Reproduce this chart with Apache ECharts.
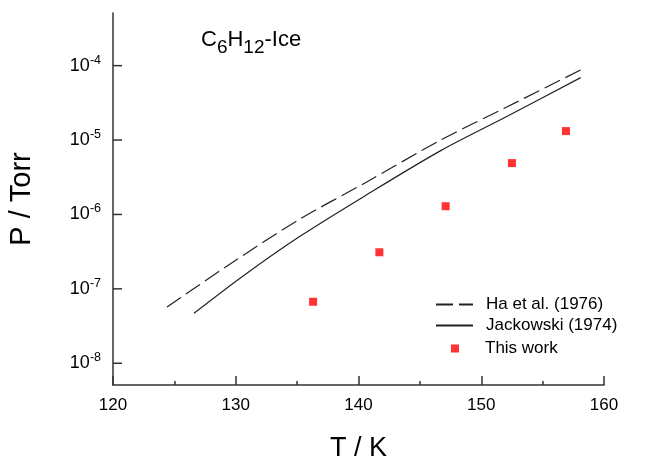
<!DOCTYPE html>
<html>
<head>
<meta charset="utf-8">
<script src="https://cdn.jsdelivr.net/npm/echarts@6/dist/echarts.min.js"></script>
<style>
html,body{margin:0;padding:0;background:#fff;}
#chart{width:666px;height:459px;}
</style>
</head>
<body>
<div id="chart"></div>
<script>
// Ha et al. (1976) – dashed curve
const haT = [124.4, 129.6, 135.2, 140.6, 146.7, 152.0, 158.1];
const haP = [5.71e-8, 2.19e-7, 8.61e-7, 2.69e-6, 1.00e-5, 2.74e-5, 8.75e-5];
// Jackowski (1974) – solid curve
const jaT = [126.6, 130.6, 135.2, 140.6, 146.7, 152.0, 158.1];
const jaP = [4.70e-8, 1.49e-7, 5.04e-7, 1.81e-6, 7.21e-6, 2.04e-5, 6.90e-5];
// This work – red squares
const twT = [136.3, 141.7, 147.1, 152.5, 156.9];
const twP = [6.7e-8, 3.1e-7, 1.29e-6, 4.9e-6, 1.32e-5];
// y tick values (log axis, decades)
const yTicks = [1e-8, 1e-7, 1e-6, 1e-5, 1e-4];
const xMin = 120;
const seriesNames = ['Ha et al. (1976)', 'Jackowski (1974)', 'This work'];

const zip = (a, b) => a.map((v, i) => [v, b[i]]);
const FONT = 'Liberation Sans, Arial, sans-serif';
const chart = echarts.init(document.getElementById('chart'));
chart.setOption({
  animation: false,
  backgroundColor: '#fff',
  textStyle: { fontFamily: FONT },
  title: {
    text: 'C{sub|6}H{sub|12}-Ice',
    left: 201, top: 22, padding: 0,
    textStyle: {
      fontFamily: FONT, fontSize: 22, fontWeight: 'normal', color: '#000',
      rich: { sub: { fontFamily: FONT, fontSize: 19, color: '#000', padding: [16, 0, 0, 0] } }
    }
  },
  grid: { left: 113, right: 62, top: 13, bottom: 74, containLabel: false, outerBoundsMode: 'none' },
  legend: [
    {
      data: [seriesNames[0]], left: 435, top: 296, padding: 0, itemWidth: 37, itemHeight: 14,
      itemStyle: { opacity: 0 },
      textStyle: { fontFamily: FONT, fontSize: 17, color: '#000', padding: [0, 0, 0, 8] }
    },
    {
      data: [seriesNames[1]], left: 435, top: 317, padding: 0, itemWidth: 37, itemHeight: 14,
      itemStyle: { opacity: 0 },
      textStyle: { fontFamily: FONT, fontSize: 17, color: '#000', padding: [0, 0, 0, 8] }
    },
    {
      data: [{ name: seriesNames[2], icon: 'rect' }], left: 451, top: 340, padding: 0, itemWidth: 8, itemHeight: 8,
      textStyle: { fontFamily: FONT, fontSize: 17, color: '#000', padding: [0, 0, 0, 21] }
    }
  ],
  xAxis: {
    type: 'value', min: xMin, max: 160, interval: 10,
    name: 'T / K', nameLocation: 'middle', nameGap: 50,
    nameTextStyle: { fontFamily: FONT, fontSize: 27, color: '#000' },
    axisLine: { show: true, lineStyle: { color: '#333', width: 1.5 } },
    axisTick: { show: true, inside: true, length: 9, lineStyle: { color: '#333', width: 1.5 } },
    minorTick: { show: true, splitNumber: 2, length: 4, lineStyle: { color: '#333', width: 1.5 } },
    axisLabel: { fontFamily: FONT, fontSize: 17, color: '#000', margin: 12 },
    splitLine: { show: false }
  },
  yAxis: {
    type: 'log', logBase: 10, min: 5.1e-9, max: 5.1e-4,
    name: 'P / Torr', nameLocation: 'middle', nameGap: 77,
    nameTextStyle: { fontFamily: FONT, fontSize: 29, color: '#000' },
    axisLine: { show: true, lineStyle: { color: '#333', width: 1.5 } },
    axisTick: { show: false },
    axisLabel: {
      customValues: yTicks,
      fontFamily: FONT, fontSize: 18, color: '#000', margin: 12,
      formatter: v => '{b|10}{sup|' + Math.round(Math.log10(v)) + '}',
      rich: {
        b: { fontFamily: FONT, fontSize: 18, color: '#000' },
        sup: { fontFamily: FONT, fontSize: 12.5, color: '#000', padding: [0, 0, 11, 0] }
      }
    },
    splitLine: { show: false }
  },
  series: [
    {
      name: seriesNames[0], type: 'line', data: zip(haT, haP), symbol: 'none', smooth: 0.3,
      lineStyle: { color: '#222', width: 1.2, type: [17, 6] }, itemStyle: { color: '#222' }
    },
    {
      name: seriesNames[1], type: 'line', data: zip(jaT, jaP), symbol: 'none', smooth: 0.3,
      lineStyle: { color: '#222', width: 1.2, type: 'solid' }, itemStyle: { color: '#222' }
    },
    {
      name: seriesNames[2], type: 'scatter', data: zip(twT, twP), symbol: 'rect', symbolSize: 8,
      itemStyle: { color: '#ff0000' }
    },
    {
      // inward major tick marks on the log y axis at each decade
      name: 'yTickMarks', type: 'custom', silent: true, clip: false, z: 5,
      data: yTicks.map(v => [xMin, v]),
      encode: { x: 0, y: 1 },
      renderItem: function (params, api) {
        const p = api.coord([api.value(0), api.value(1)]);
        return {
          type: 'line',
          shape: { x1: p[0], y1: p[1], x2: p[0] + 9, y2: p[1] },
          style: { stroke: '#333', lineWidth: 1.5 }
        };
      }
    }
  ]
});
</script>
</body>
</html>
